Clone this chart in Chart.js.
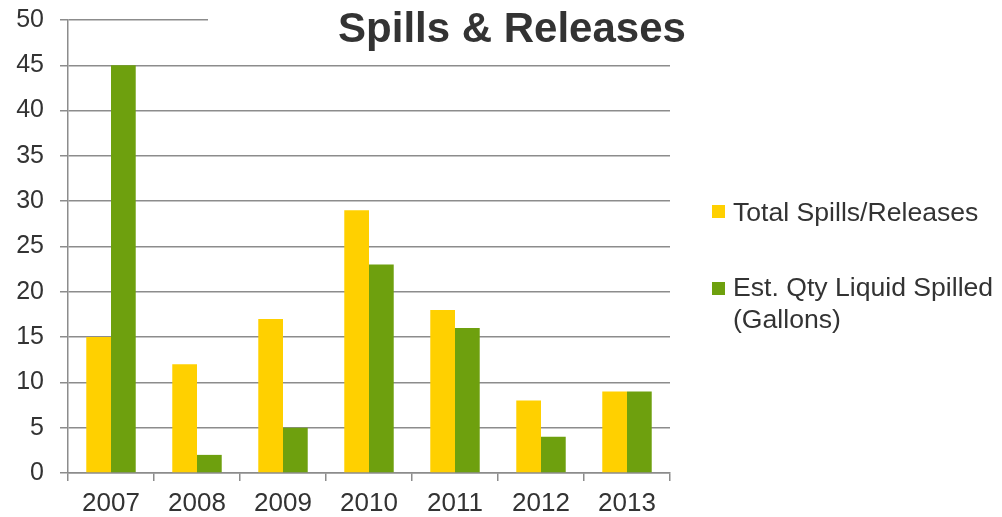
<!DOCTYPE html>
<html>
<head>
<meta charset="utf-8">
<script src="https://cdn.jsdelivr.net/npm/chart.js@4"></script>
<style>
    body { margin: 0; background: #fff; font-family: "Liberation Sans", Arial, sans-serif; }
    #wrap { position: relative; width: 1002px; height: 517px; }
    #title {
        position: absolute; left: 208px; top: 0; width: 608px; height: 42px;
        background: #fff; color: #333; font-weight: bold; font-size: 42px;
        line-height: 56px; text-align: center;
    }
    .legend { position: absolute; left: 712px; color: #333; font-size: 26.6px; line-height: 32px; }
    .legend .box { position: absolute; left: 0; width: 13px; height: 13px; }
    .legend .txt { position: absolute; left: 21px; white-space: nowrap; }
</style>
</head>
<body>
<div id="wrap">
    <canvas id="chart" width="1002" height="517"></canvas>
    <div id="title">Spills &amp; Releases</div>
    <div class="legend" style="top:196px">
        <div class="box" style="top:9px;background:#FFD000"></div>
        <div class="txt">Total Spills/Releases</div>
    </div>
    <div class="legend" style="top:271px">
        <div class="box" style="top:11px;background:#6EA00E"></div>
        <div class="txt">Est. Qty Liquid Spilled<br>(Gallons)</div>
    </div>
</div>
<script>
// Data
const years = ['2007', '2008', '2009', '2010', '2011', '2012', '2013'];
const totalSpills = [15, 12, 17, 29, 18, 8, 9];
const estQtySpilled = [45, 2, 5, 23, 16, 4, 9];

const textColor = '#333';
const gridColor = '#8c8c8c';

const ctx = document.getElementById('chart').getContext('2d');
new Chart(ctx, {
    type: 'bar',
    data: {
        labels: years,
        datasets: [{
            label: 'Total Spills/Releases',
            data: totalSpills,
            backgroundColor: '#FFD000'
        }, {
            label: 'Est. Qty Liquid Spilled (Gallons)',
            data: estQtySpilled,
            backgroundColor: '#6EA00E'
        }]
    },
    options: {
        responsive: false,
        animation: false,
        categoryPercentage: 0.575,
        barPercentage: 1,
        layout: { padding: { top: 20, right: 332, left: 0, bottom: 0 } },
        plugins: {
            legend: { display: false },
            tooltip: { enabled: false }
        },
        scales: {
            x: {
                grid: { drawOnChartArea: false, color: gridColor, lineWidth: 1.5, tickLength: 8 },
                border: { color: gridColor, width: 1.5 },
                ticks: { color: textColor, font: { size: 26, family: 'Liberation Sans' }, padding: 7, maxRotation: 0 },
                afterFit: (scale) => { scale.height = 44; scale.paddingLeft = 0; scale.paddingRight = 0; }
            },
            y: {
                min: 0,
                max: 50,
                ticks: { stepSize: 5, color: textColor, font: { size: 25, family: 'Liberation Sans' }, padding: 16 },
                grid: { color: gridColor, lineWidth: 1.5, tickLength: 8 },
                border: { color: gridColor, width: 1.5 },
                afterFit: (scale) => { scale.width = 68; scale.paddingTop = 0; scale.paddingBottom = 0; }
            }
        }
    }
});
</script>
</body>
</html>
